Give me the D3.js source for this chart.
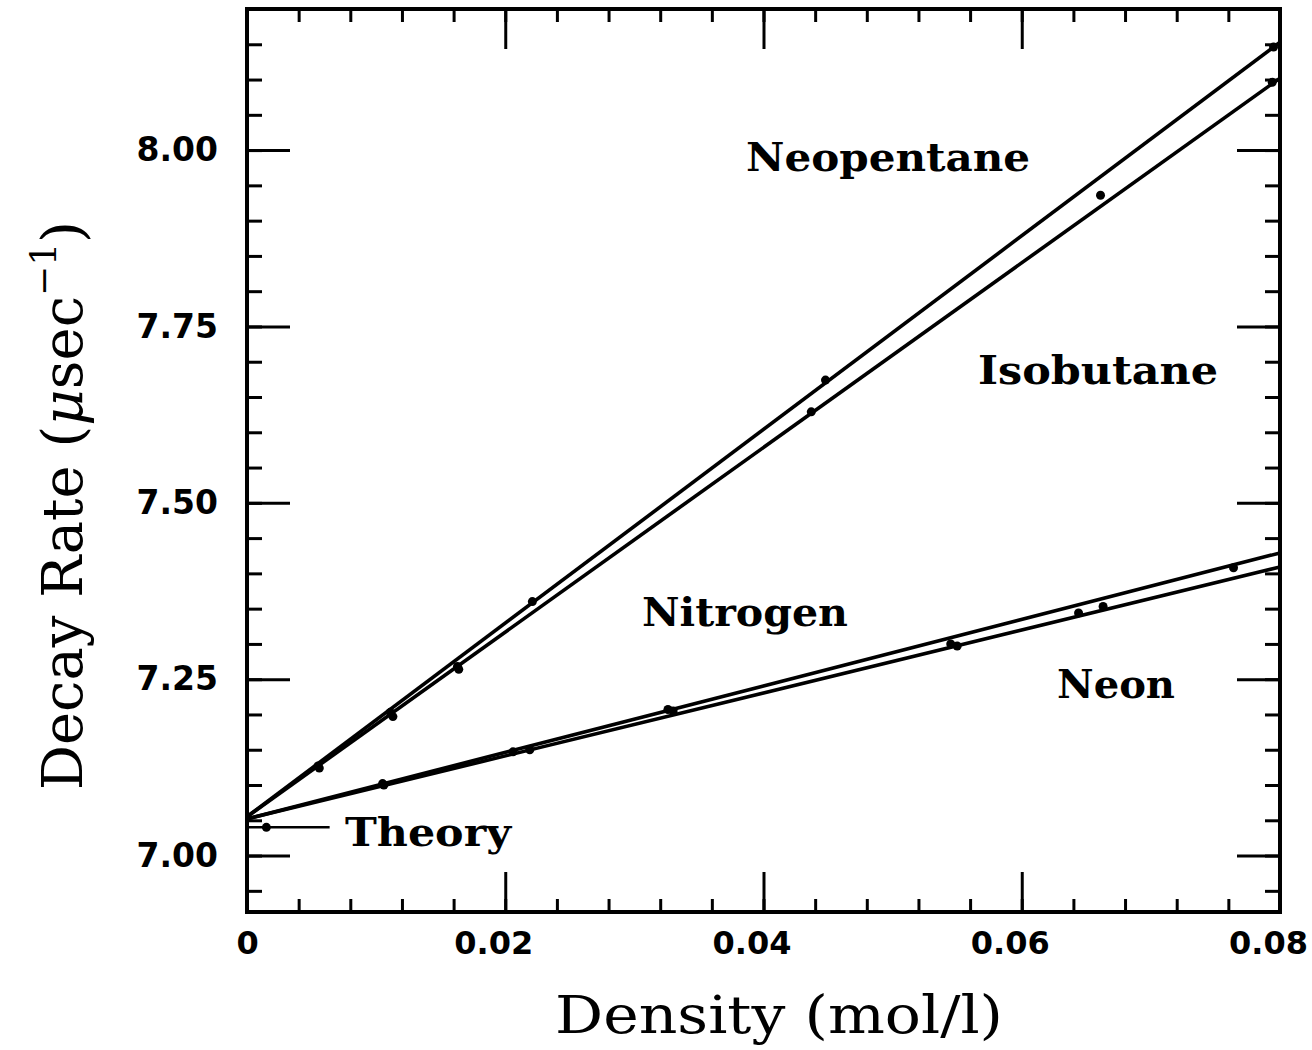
<!DOCTYPE html>
<html>
<head>
<meta charset="utf-8">
<script src="https://cdn.jsdelivr.net/npm/d3@7"></script>
<style>
	body { margin: 0; background: white; }
	#outer { width: 1312px; height: 1050px; }
</style>
</head>
<body>
<div id="outer"></div>
<script>
////////// DATA //////////
const seriesNames = ['Neopentane', 'Isobutane', 'Nitrogen', 'Neon'];

const neopentaneX = [0.0055, 0.0111, 0.0163, 0.0221, 0.0448, 0.0795];
const neopentaneY = [7.127, 7.203, 7.268, 7.360, 7.674, 8.146];
const isobutaneX = [0.0056, 0.0113, 0.0164, 0.0437, 0.0661, 0.0794];
const isobutaneY = [7.124, 7.197, 7.264, 7.629, 7.936, 8.096];
const nitrogenX = [0.0105, 0.0219, 0.0326, 0.0545, 0.0663, 0.0764];
const nitrogenY = [7.102, 7.150, 7.207, 7.300, 7.353, 7.408];
const neonX = [0.0106, 0.0206, 0.0330, 0.0550, 0.0644];
const neonY = [7.100, 7.147, 7.205, 7.297, 7.344];

// straight-line fits, value at density 0 and at 0.08
const fitX = [0, 0.08];
const neopentaneFit = [7.055, 8.153];
const isobutaneFit = [7.055, 8.102];
const nitrogenFit = [7.052, 7.429];
const neonFit = [7.052, 7.409];

const theoryX = [0, 0.0015, 0.0064];
const theoryY = [7.04, 7.04, 7.04];

const xMajorTicks = [0, 0.02, 0.04, 0.06, 0.08];
const xTickLabels = ['0', '0.02', '0.04', '0.06', '0.08'];
const yMajorTicks = [7.00, 7.25, 7.50, 7.75, 8.00];
const yTickLabels = ['7.00', '7.25', '7.50', '7.75', '8.00'];
const xMinorTicks = d3.range(0, 21).map(i => +(i * 0.004).toFixed(3));
const yMinorTicks = d3.range(0, 25).map(i => +(6.95 + i * 0.05).toFixed(2));

function drawChart () {

	////////// Hard Coded Defs //////////
	const width = 1312;
	const height = 1050;
	const plot = {left: 247, right: 1280, top: 9, bottom: 912};
	const ink = '#000';
	const labelFont = 'DejaVu Serif';
	const tickFont = 'DejaVu Sans';

	const svg = d3.select('#outer').append('svg')
		.attr('width', width)
		.attr('height', height)
		.style('background', 'white');

	const x = d3.scaleLinear().domain([0, 0.08]).range([plot.left, plot.right]);
	const y = d3.scaleLinear().domain([6.92, 8.2]).range([plot.bottom, plot.top]);

	////////////////////////////////////////////////////////////////
		// AXES
	////////////////////////////////////////////////////////////////
	const addAxis = (axis, transform, showLabels) => {
		const g = svg.append('g').attr('transform', transform).call(axis);
		g.select('.domain').remove();
		g.selectAll('line').attr('stroke', ink).attr('stroke-width', 3);
		if (!showLabels) g.selectAll('text').remove();
		return g;
	};

	// bottom
	addAxis(d3.axisBottom(x).tickValues(xMinorTicks).tickSize(-13).tickFormat(''), `translate(0,${plot.bottom})`, false);
	const xLabels = addAxis(d3.axisBottom(x).tickValues(xMajorTicks).tickSize(-40).tickPadding(19)
		.tickFormat((d, i) => xTickLabels[i]), `translate(0,${plot.bottom})`, true);
	// labels in the original sit a little left of their ticks
	xLabels.selectAll('text').attr('dx', d => d === 0 ? 0 : -12);
	// top
	addAxis(d3.axisTop(x).tickValues(xMinorTicks).tickSize(-13).tickFormat(''), `translate(0,${plot.top})`, false);
	addAxis(d3.axisTop(x).tickValues(xMajorTicks).tickSize(-40).tickFormat(''), `translate(0,${plot.top})`, false);
	// left
	addAxis(d3.axisLeft(y).tickValues(yMinorTicks).tickSize(-15).tickFormat(''), `translate(${plot.left},0)`, false);
	const yLabels = addAxis(d3.axisLeft(y).tickValues(yMajorTicks).tickSize(-43).tickPadding(29)
		.tickFormat((d, i) => yTickLabels[i]), `translate(${plot.left},0)`, true);
	// right
	addAxis(d3.axisRight(y).tickValues(yMinorTicks).tickSize(-15).tickFormat(''), `translate(${plot.right},0)`, false);
	addAxis(d3.axisRight(y).tickValues(yMajorTicks).tickSize(-43).tickFormat(''), `translate(${plot.right},0)`, false);

	xLabels.selectAll('text').style('font-size', '32px');
	yLabels.selectAll('text').style('font-size', '33px');
	[xLabels, yLabels].forEach(g => g.selectAll('text')
		.attr('fill', ink)
		.style('font-family', tickFont)
		.style('font-weight', 'bold'));

	svg.append('rect')
		.attr('x', plot.left)
		.attr('y', plot.top)
		.attr('width', plot.right - plot.left)
		.attr('height', plot.bottom - plot.top)
		.attr('fill', 'none')
		.attr('stroke', ink)
		.attr('stroke-width', 4);

	////////////////////////////////////////////////////////////////
		// LINES + POINTS
	////////////////////////////////////////////////////////////////
	const series = [
		{name: seriesNames[0], xs: neopentaneX, ys: neopentaneY, fit: neopentaneFit},
		{name: seriesNames[1], xs: isobutaneX, ys: isobutaneY, fit: isobutaneFit},
		{name: seriesNames[2], xs: nitrogenX, ys: nitrogenY, fit: nitrogenFit},
		{name: seriesNames[3], xs: neonX, ys: neonY, fit: neonFit}
	];
	const line = d3.line().x(d => x(d[0])).y(d => y(d[1]));
	const dataGroup = svg.append('g').attr('class', 'data');

	series.forEach(s => {
		dataGroup.append('path')
			.datum(fitX.map((fx, i) => [fx, s.fit[i]]))
			.attr('d', line)
			.attr('fill', 'none')
			.attr('stroke', ink)
			.attr('stroke-width', 3.6);
		dataGroup.selectAll(null)
			.data(s.xs.map((px, i) => [px, s.ys[i]]))
			.enter().append('circle')
			.attr('cx', d => x(d[0]))
			.attr('cy', d => y(d[1]))
			.attr('r', 4.5)
			.attr('fill', ink);
	});

	// theory marker
	const theory = theoryX.map((tx, i) => [tx, theoryY[i]]);
	dataGroup.append('path')
		.datum(theory)
		.attr('d', line)
		.attr('fill', 'none')
		.attr('stroke', ink)
		.attr('stroke-width', 2.5);
	dataGroup.append('circle')
		.attr('cx', x(theory[1][0]))
		.attr('cy', y(theory[1][1]))
		.attr('r', 4.5)
		.attr('fill', ink);

	////////////////////////////////////////////////////////////////
		// TEXT
	////////////////////////////////////////////////////////////////
	const addLabel = (txt, lx, ly, len, size) => svg.append('text')
		.text(txt)
		.attr('x', lx)
		.attr('y', ly)
		.attr('textLength', len)
		.attr('lengthAdjust', 'spacingAndGlyphs')
		.attr('fill', ink)
		.style('font-family', labelFont)
		.style('font-weight', 'bold')
		.style('font-size', size + 'px');

	addLabel('Neopentane', 746, 171, 284, 40);
	addLabel('Isobutane', 978, 384, 240, 40);
	addLabel('Nitrogen', 642, 626, 206, 40);
	addLabel('Neon', 1057, 698, 118, 40);
	addLabel('Theory', 345, 846, 166, 40);

	// axis titles
	svg.append('text')
		.text('Density (mol/l)')
		.attr('x', 555)
		.attr('y', 1033)
		.attr('textLength', 448)
		.attr('lengthAdjust', 'spacingAndGlyphs')
		.attr('fill', ink)
		.style('font-family', labelFont)
		.style('font-size', '52px');

	const yTitle = svg.append('text')
		.attr('transform', 'translate(82,790) rotate(-90)')
		.attr('fill', ink)
		.style('font-family', labelFont)
		.style('font-size', '56px');
	yTitle.append('tspan').text('Decay Rate (');
	yTitle.append('tspan').text('μ').style('font-style', 'italic');
	yTitle.append('tspan').text('sec');
	yTitle.append('tspan').text('−1').attr('dy', -26).style('font-size', '36px');
	yTitle.append('tspan').text(')').attr('dy', 26);
}

drawChart();
</script>
</body>
</html>
